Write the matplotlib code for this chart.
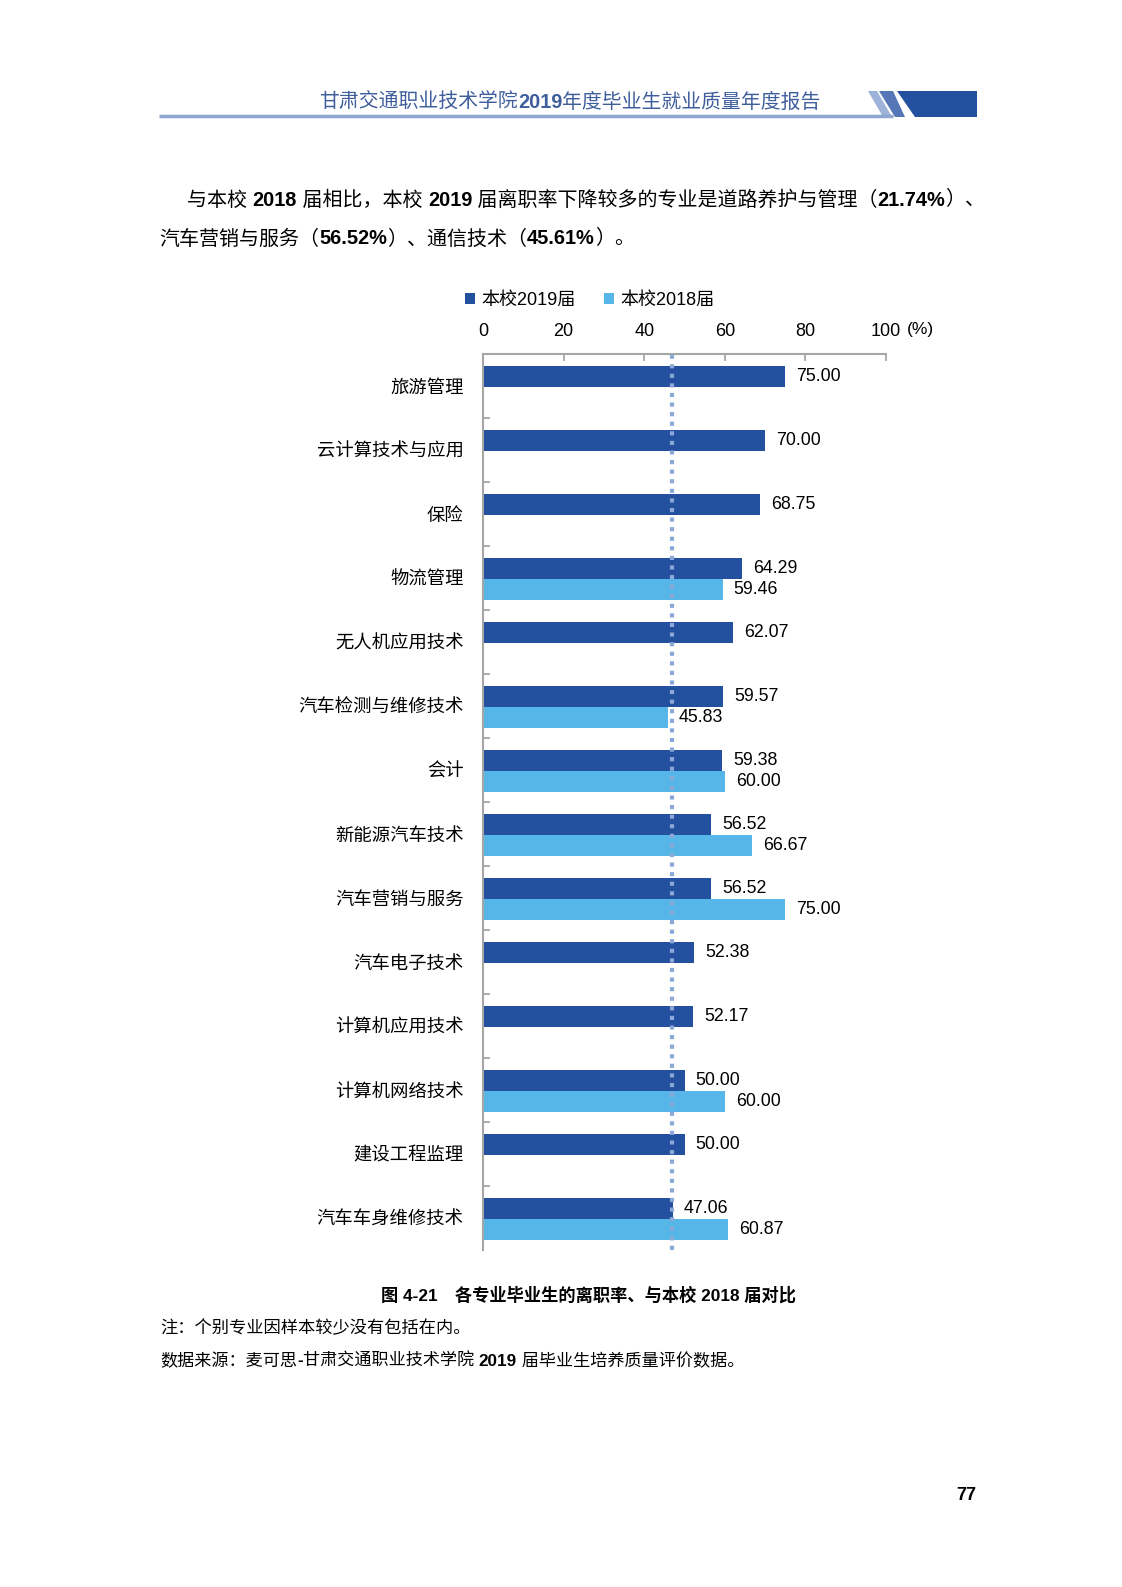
import matplotlib
matplotlib.use("Agg")
import matplotlib.pyplot as plt
from matplotlib.patches import Polygon
import numpy as np

plt.rcParams['font.family'] = ['Liberation Sans', 'Noto Sans CJK SC', 'DejaVu Sans']

# data
majors = ['旅游管理', '云计算技术与应用', '保险', '物流管理', '无人机应用技术',
          '汽车检测与维修技术', '会计', '新能源汽车技术', '汽车营销与服务',
          '汽车电子技术', '计算机应用技术', '计算机网络技术', '建设工程监理',
          '汽车车身维修技术']
rate_2019 = [75.00, 70.00, 68.75, 64.29, 62.07, 59.57, 59.38, 56.52, 56.52,
             52.38, 52.17, 50.00, 50.00, 47.06]
rate_2018 = [None, None, None, 59.46, None, 45.83, 60.00, 66.67, 75.00,
             None, None, 60.00, None, 60.87]
school_avg = 46.9
x_ticks = [0, 20, 40, 60, 80, 100]
series_names = ['本校2019届', '本校2018届']

DARK = '#2450A0'
LIGHT = '#57B6E8'
SPINE = '#A6A6A6'

W, H = 1122, 1587
fig = plt.figure(figsize=(W / 100, H / 100), dpi=100)

# page overlay in pixel coordinates
ov = fig.add_axes([0, 0, 1, 1])
ov.set_xlim(0, W)
ov.set_ylim(H, 0)
ov.axis('off')
renderer = fig.canvas.get_renderer()


def runs(x, y, parts, size, color='black', ha='left'):
    """draw a line of mixed normal/bold text pieces one after another"""
    texts = []
    for s, bold in parts:
        t = ov.text(0, y, s, fontsize=size, color=color, va='center',
                    fontweight='bold' if bold else 'normal')
        texts.append(t)
    widths = [t.get_window_extent(renderer).width for t in texts]
    total = sum(widths)
    if ha == 'center':
        x = x - total / 2
    for t, w in zip(texts, widths):
        t.set_x(x)
        x += w


# header
runs(570, 102, [('甘肃交通职业技术学院', False), ('2019', True),
                ('年度毕业生就业质量年度报告', False)], 14.3, color='#3F5E9C', ha='center')
ov.plot([159, 893], [115.5, 115.5], color='#8EA6CF', lw=2.5, solid_capstyle='butt')
ov.add_patch(Polygon([(868, 91), (877, 91), (892, 117), (883, 117)], color='#9DB3DA', lw=0))
ov.add_patch(Polygon([(879, 91), (893, 91), (905, 117), (895, 117)], color='#5577B8', lw=0))
ov.add_patch(Polygon([(897, 91), (977, 91), (977, 117), (915, 117)], color='#2450A0', lw=0))

# paragraph
runs(187, 200, [('与本校 ', False), ('2018', True), (' 届相比，本校 ', False), ('2019', True),
                (' 届离职率下降较多的专业是道路养护与管理（', False), ('21.74%', True), ('）、', False)], 14.4)
runs(159, 239, [('汽车营销与服务（', False), ('56.52%', True), ('）、通信技术（', False),
                ('45.61%', True), ('）。', False)], 14.4)

# chart
left, right, top, bottom = 483, 886, 354, 1250
ax = fig.add_axes([left / W, 1 - bottom / H, (right - left) / W, (bottom - top) / H])
pos = np.arange(len(majors))
h = 0.33
ax.barh(pos - 0.155, rate_2019, height=h, color=DARK, label=series_names[0])
idx18 = [i for i, v in enumerate(rate_2018) if v is not None]
vals18 = [rate_2018[i] for i in idx18]
ax.barh(np.array(idx18) + 0.175, vals18, height=h, color=LIGHT, label=series_names[1])

for i, v in enumerate(rate_2019):
    ax.annotate('%.2f' % v, (v, i - 0.155), xytext=(8, 0), textcoords='offset points',
                va='center', ha='left', fontsize=12.8)
for i, v in zip(idx18, vals18):
    ax.annotate('%.2f' % v, (v, i + 0.175), xytext=(8, 0), textcoords='offset points',
                va='center', ha='left', fontsize=12.8)

ax.axvline(school_avg, color='#8BA9D8', lw=3, ls=(0, (1, 1.3)), zorder=3)

ax.set_xlim(0, 100)
ax.set_ylim(len(majors) - 0.5, -0.5)
ax.xaxis.tick_top()
ax.set_xticks(x_ticks)
ax.set_xticklabels([str(v) for v in x_ticks], fontsize=13)
ax.tick_params(axis='x', direction='in', length=5, width=1.3, color=SPINE, pad=10)
ax.set_yticks(pos)
ax.set_yticklabels(majors, fontsize=13.2)
ax.set_yticks(pos[:-1] + 0.5, minor=True)
ax.tick_params(axis='y', which='major', length=0, pad=14)
ax.tick_params(axis='y', which='minor', direction='in', length=5, width=1.3, color=SPINE)
for s in ['right', 'bottom']:
    ax.spines[s].set_visible(False)
for s in ['top', 'left']:
    ax.spines[s].set_color(SPINE)
    ax.spines[s].set_linewidth(1.5)
ax.annotate('(%)', xy=(1, 1), xycoords='axes fraction', xytext=(15, 17.5),
            textcoords='offset points', ha='left', va='center', fontsize=12.5)

fig.legend(loc='center left', bbox_to_anchor=(458 / W, 1 - 300.6 / H), ncol=2,
           frameon=False, fontsize=13, handlelength=0.55, handleheight=0.55,
           handletextpad=0.35, columnspacing=1.55, borderaxespad=0)

# caption and notes
runs(589, 1295, [('图 4-21　各专业毕业生的离职率、与本校 2018 届对比', True)], 12.4, ha='center')
runs(160, 1328, [('注：个别专业因样本较少没有包括在内。', False)], 12.4)
runs(160, 1361, [('数据来源：麦可思', False), ('-', True), ('甘肃交通职业技术学院 ', False),
                 ('2019', True), (' 届毕业生培养质量评价数据。', False)], 12.3)
runs(966, 1496, [('77', True)], 13, ha='center')

fig.savefig('out.png', dpi=100)
